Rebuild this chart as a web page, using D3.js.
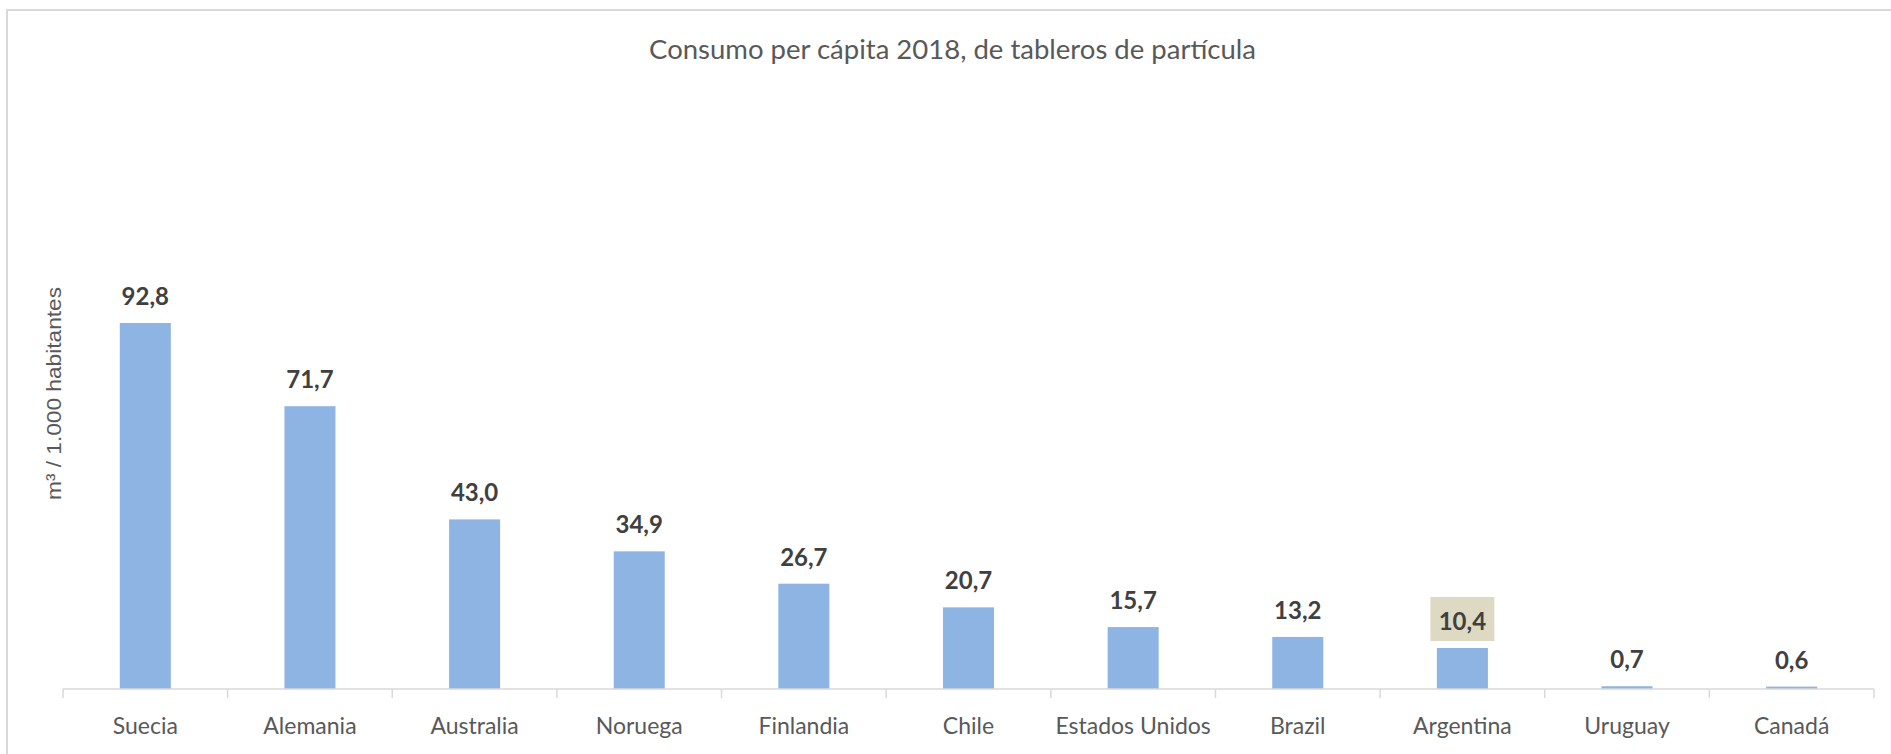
<!DOCTYPE html>
<html>
<head>
<meta charset="utf-8">
<script src="https://cdn.jsdelivr.net/npm/d3@7/dist/d3.min.js"></script>
<style>
  html, body { margin: 0; padding: 0; background: #fff; }
  svg { display: block; }
</style>
</head>
<body>
<svg id="chart" width="1891" height="754"></svg>
<script>
const title = "Consumo per cápita 2018, de tableros de partícula";
const yTitle = "m³ / 1.000 habitantes";
const categories = ["Suecia", "Alemania", "Australia", "Noruega", "Finlandia", "Chile", "Estados Unidos", "Brazil", "Argentina", "Uruguay", "Canadá"];
const values = [92.8, 71.7, 43.0, 34.9, 26.7, 20.7, 15.7, 13.2, 10.4, 0.7, 0.6];
const highlighted = ["Argentina"];
const yDomain = [0, 100];

const svg = d3.select("#chart");
const W = 1891, H = 754;
const left = 63, right = 1874, baseY = 689, topY = 294.6;
const FONT = "Lato, 'Open Sans', sans-serif";

// outer border (top and left visible)
svg.append("rect")
  .attr("x", 7).attr("y", 10)
  .attr("width", W + 20).attr("height", H + 20)
  .attr("fill", "none").attr("stroke", "#d9d9d9").attr("stroke-width", 2);

const x = d3.scaleBand().domain(categories).range([left, right])
  .paddingInner(0.69).paddingOuter(0.345);
const y = d3.scaleLinear().domain(yDomain).range([baseY, topY]);

// title
svg.append("text")
  .attr("x", 952.5).attr("y", 59)
  .attr("text-anchor", "middle")
  .attr("font-family", FONT).attr("font-size", 27.5)
  .attr("fill", "#595959")
  .text(title);

// y-axis title
svg.append("text")
  .attr("transform", "translate(61,393.5) rotate(-90)")
  .attr("text-anchor", "middle")
  .attr("font-family", "'Liberation Sans', Arial, sans-serif")
  .attr("font-size", 20)
  .attr("fill", "#595959")
  .attr("textLength", 213).attr("lengthAdjust", "spacingAndGlyphs")
  .text(yTitle);

// bars
svg.append("g").selectAll("rect")
  .data(categories)
  .join("rect")
  .attr("x", d => x(d))
  .attr("width", x.bandwidth())
  .attr("y", (d, i) => y(values[i]))
  .attr("height", (d, i) => y(0) - y(values[i]))
  .attr("fill", "#8eb4e3");

// x axis
const xAxis = d3.axisBottom(x).tickSize(0).tickFormat("");
const gx = svg.append("g").attr("transform", `translate(0,${baseY})`).call(xAxis);
gx.select(".domain").attr("stroke", "#d9d9d9").attr("stroke-width", 1.5)
  .attr("d", `M${left},0H${right}`);
gx.selectAll(".tick").remove();

// tick marks at band boundaries
const bounds = categories.map(c => x(c) - x.step() * x.paddingInner() / 2);
bounds.push(right);
bounds[0] = left;
svg.append("g").selectAll("line")
  .data(bounds)
  .join("line")
  .attr("x1", d => d).attr("x2", d => d)
  .attr("y1", baseY).attr("y2", baseY + 9)
  .attr("stroke", "#d9d9d9").attr("stroke-width", 1.5);

// category labels
svg.append("g").selectAll("text")
  .data(categories)
  .join("text")
  .attr("x", d => x(d) + x.bandwidth() / 2)
  .attr("y", 734)
  .attr("text-anchor", "middle")
  .attr("font-family", FONT).attr("font-size", 23)
  .attr("fill", "#595959")
  .text(d => d);

// value labels
const fmt = v => v.toFixed(1).replace(".", ",");
const lab = svg.append("g");
categories.forEach((c, i) => {
  const cx = x(c) + x.bandwidth() / 2;
  const by = y(values[i]) - 18;
  if (highlighted.includes(c)) {
    lab.append("rect")
      .attr("x", cx - 32).attr("y", by - 33)
      .attr("width", 64).attr("height", 44)
      .attr("fill", "#ddd9c3");
  }
  lab.append("text")
    .attr("x", cx).attr("y", by)
    .attr("text-anchor", "middle")
    .attr("font-family", FONT).attr("font-size", 24).attr("font-weight", "bold")
    .attr("fill", "#404040")
    .text(fmt(values[i]));
});
</script>
</body>
</html>
